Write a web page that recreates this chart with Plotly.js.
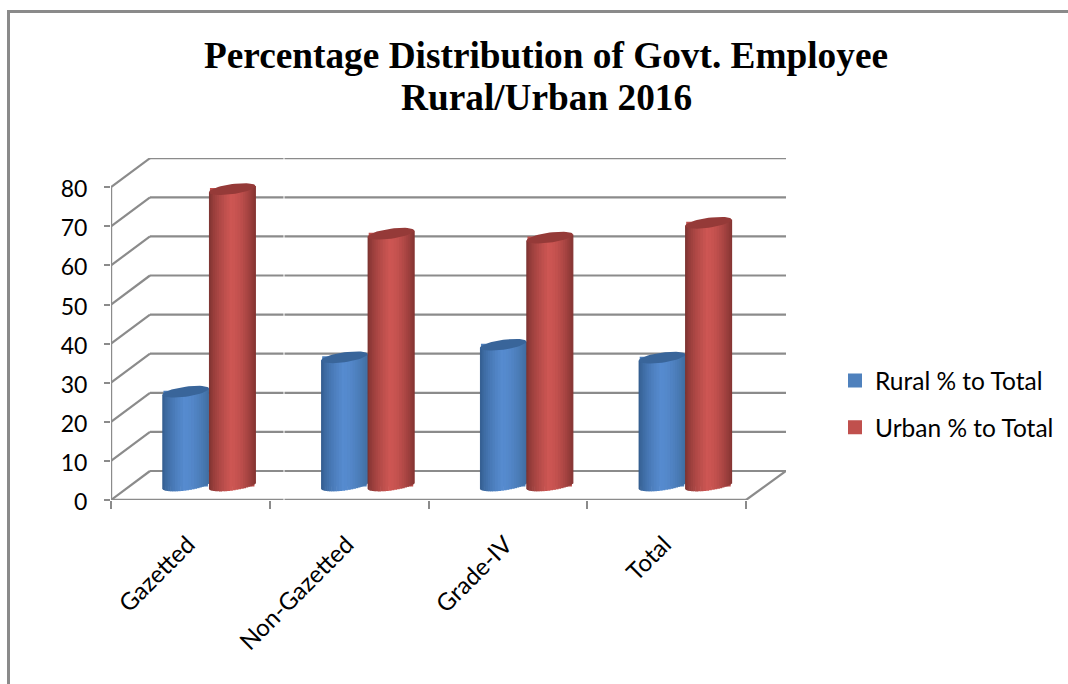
<!DOCTYPE html>
<html><head><meta charset="utf-8">
<script src="https://cdn.plot.ly/plotly-3.0.1.min.js"></script>
<style>html,body{margin:0;padding:0;background:#fff;overflow:hidden}#c{width:1068px;height:684px}</style>
</head><body><div id="c"></div>
<script>
const categories = ["Gazetted", "Non-Gazetted", "Grade-IV", "Total"];
const rural = [24.0, 32.8, 36.0, 32.7];
const urban = [75.8, 64.4, 63.4, 67.2];
const yTicks = [0, 10, 20, 30, 40, 50, 60, 70, 80];
const seriesNames = ["Rural % to Total", "Urban % to Total"];
const titleLine1 = "Percentage Distribution of Govt. Employee";
const titleLine2 = "Rural/Urban 2016";

// page geometry (px)
const W = 1068, H = 684;
const L = 111, R = 786, T = 158, B = 500;
const pxX = 158.75, pxY = 3.91;
const depthX = 39 / pxX, depthY = 29 / pxY;     // 3D wall offset, data units
const floorMid = depthY / 2;
const cylW = 46.5 / pxX;                        // cylinder width, data units
const joint = 0.117;                            // rural/urban joint from category centre
const capB = 5 / pxY, capK = 3.1 / pxY;         // cap ellipse half height and tilt
const xMin = -0.5, xMax = xMin + (R - L) / pxX;
const yMax = (B - T) / pxY;

function mix(a, b, t) { return a.map((v, i) => Math.round(v + (b[i] - v) * t)); }
function rgb(c) { return `rgb(${c[0]},${c[1]},${c[2]})`; }
function shade(t, left, mid, right) {
  const peak = 0.47;
  if (t < peak) return rgb(mix(left, mid, Math.pow(t / peak, 0.6)));
  return rgb(mix(mid, right, Math.pow((t - peak) / (1 - peak), 1.7)));
}
const styles = [
  { base: "#4F81BD", left: [47, 88, 136], mid: [86, 139, 207], right: [64, 109, 160], cap: "#39659A" },
  { base: "#C0504D", left: [116, 46, 44], mid: [205, 86, 83], right: [132, 52, 50], cap: "#953A38" }
];

const traces = [];
const N = 26;
const overlap = 0.6 / pxX;
[rural, urban].forEach((vals, s) => {
  const st = styles[s];
  const centre = joint + (s === 0 ? -cylW / 2 : cylW / 2);
  // legend carrier and value bar, hidden under the shaded strips
  traces.push({
    type: "bar", name: seriesNames[s], x: vals.map((_, i) => i + centre), y: vals,
    base: vals.map(() => floorMid), width: cylW - 4 / pxX,
    marker: { color: st.base, line: { color: st.base, width: 2 } },
    hoverinfo: "skip", legendgroup: seriesNames[s], showlegend: true, xaxis: "x", yaxis: "y"
  });
  for (let k = 0; k < N; k++) {
    // strips get narrower towards the edges, where the base curve bends fastest
    const a0 = (1 - Math.cos(Math.PI * k / N)) / 2, a1 = (1 - Math.cos(Math.PI * (k + 1) / N)) / 2;
    const t = (a0 + a1) / 2, u = t * 2 - 1;
    const root = Math.sqrt(Math.max(0, 1 - u * u));
    const lowBase = floorMid - capB * root + capK * u;
    const extra = k === N - 1 ? 0 : overlap;
    const w = (a1 - a0) * cylW + extra;
    const xLeft = a0 * cylW;
    traces.push({
      type: "bar", x: vals.map((_, i) => i + centre - cylW / 2 + xLeft + w / 2),
      y: vals.map(v => v + floorMid + capK * u - lowBase),
      base: vals.map(() => lowBase), width: w,
      marker: { color: shade(t, st.left, st.mid, st.right), line: { width: 0 } },
      hoverinfo: "skip", showlegend: false, xaxis: "x", yaxis: "y"
    });
  }
  const cx = [], cy = [];
  vals.forEach((v, i) => {
    for (let a = 0; a <= 48; a++) {
      const th = a / 48 * 2 * Math.PI;
      cx.push(i + centre + cylW / 2 * Math.cos(th));
      cy.push(v + floorMid + capB * Math.sin(th) + capK * Math.cos(th));
    }
    cx.push(null); cy.push(null);
  });
  traces.push({
    type: "scatter", mode: "lines", x: cx, y: cy, fill: "toself", fillcolor: st.cap,
    line: { width: 0, color: st.cap }, hoverinfo: "skip", showlegend: false, xaxis: "x", yaxis: "y"
  });
});
// category labels live on an overlaying axis so ticks can sit on the boundaries
traces.push({ type: "scatter", mode: "none", x: [0], y: [0], xaxis: "x2", yaxis: "y", showlegend: false, hoverinfo: "skip" });

const gray = "#8b8b8b";
const shapes = [];
const seg = (x0, y0, x1, y1, w) => shapes.push({
  type: "line", xref: "x", yref: "y", x0, y0, x1, y1, layer: "below", line: { color: gray, width: w || 2.2 }
});
yTicks.forEach(v => {
  seg(xMin, v, xMin + depthX, v + depthY);
  seg(xMin + depthX, v + depthY, xMax, v + depthY);
});
seg(xMin, 0, xMin + (746 - L) / pxX, 0, 2.4);
seg(xMin + (746 - L) / pxX, 0, xMax, depthY);
seg(xMin, 0, xMin, 80, 2.4);
// seam in the picture
const sx = xMin + (284 - L) / pxX;
shapes.push({ type: "line", xref: "x", yref: "y", x0: sx, x1: sx, y0: -1, y1: yMax, layer: "below", line: { color: "#fff", width: 1 } });
// outer frame
const pX = x => (x - L) / (R - L), pY = y => (B - y) / (B - T);
shapes.push({ type: "line", xref: "paper", yref: "paper", x0: pX(8), x1: pX(W + 2), y0: pY(11.5), y1: pY(11.5), line: { color: "#8a8a8a", width: 3 } });
shapes.push({ type: "line", xref: "paper", yref: "paper", x0: pX(8.5), x1: pX(8.5), y0: pY(10), y1: pY(H + 2), line: { color: "#8a8a8a", width: 3 } });

const boundaries = [-0.5, 0.5, 1.5, 2.5, 3.5];
const titleFont = { family: "'Liberation Serif', serif", size: 37.3, color: "#000", weight: 700 };
const labelFont = { family: "Lato, sans-serif", size: 24, color: "#000" };
const layout = {
  width: W, height: H, margin: { l: L, r: W - R, t: T, b: H - B, pad: 0, autoexpand: false },
  paper_bgcolor: "#fff", plot_bgcolor: "#fff",
  font: { family: "Lato, sans-serif", color: "#000" },
  barmode: "overlay",
  title: {
    text: titleLine1, font: titleFont, automargin: false,
    x: 546 / W, xanchor: "center", y: 1 - 55 / H, yanchor: "middle"
  },
  annotations: [{
    text: titleLine2, font: titleFont, showarrow: false, xref: "paper", yref: "paper",
    x: pX(546), xanchor: "center", y: pY(98), yanchor: "middle"
  }],
  xaxis: {
    type: "linear", range: [xMin, xMax], tickmode: "array", tickvals: boundaries, ticktext: boundaries.map(() => ""),
    showticklabels: false, ticks: "outside", ticklen: 8, tickwidth: 2, tickcolor: gray,
    showgrid: false, zeroline: false, showline: false, fixedrange: true
  },
  xaxis2: {
    type: "linear", range: [xMin, xMax], overlaying: "x", anchor: "y", side: "bottom",
    tickmode: "array", tickvals: categories.map((_, i) => i - 0.015), ticktext: categories,
    tickangle: -45, ticks: "outside", ticklen: 20, tickwidth: 0, tickcolor: "rgba(0,0,0,0)",
    tickfont: labelFont,
    showgrid: false, zeroline: false, showline: false, fixedrange: true
  },
  yaxis: {
    range: [0, yMax], tickmode: "array", tickvals: yTicks, ticktext: yTicks.map(String),
    ticks: "outside", ticklen: 6, tickwidth: 2, tickcolor: gray, ticklabelstandoff: 12, ticklabelshift: 2,
    tickfont: { family: "Lato, sans-serif", size: 23, color: "#000" },
    showgrid: false, zeroline: false, showline: false, fixedrange: true
  },
  legend: {
    x: pX(835), xanchor: "left", y: pY(358), yanchor: "top", bgcolor: "rgba(0,0,0,0)", borderwidth: 0,
    font: { family: "Lato, sans-serif", size: 24.5, color: "#000" }, tracegroupgap: 12, itemclick: false, itemdoubleclick: false
  },
  shapes
};
Plotly.newPlot("c", traces, layout, { displayModeBar: false, staticPlot: true });
</script></body></html>
